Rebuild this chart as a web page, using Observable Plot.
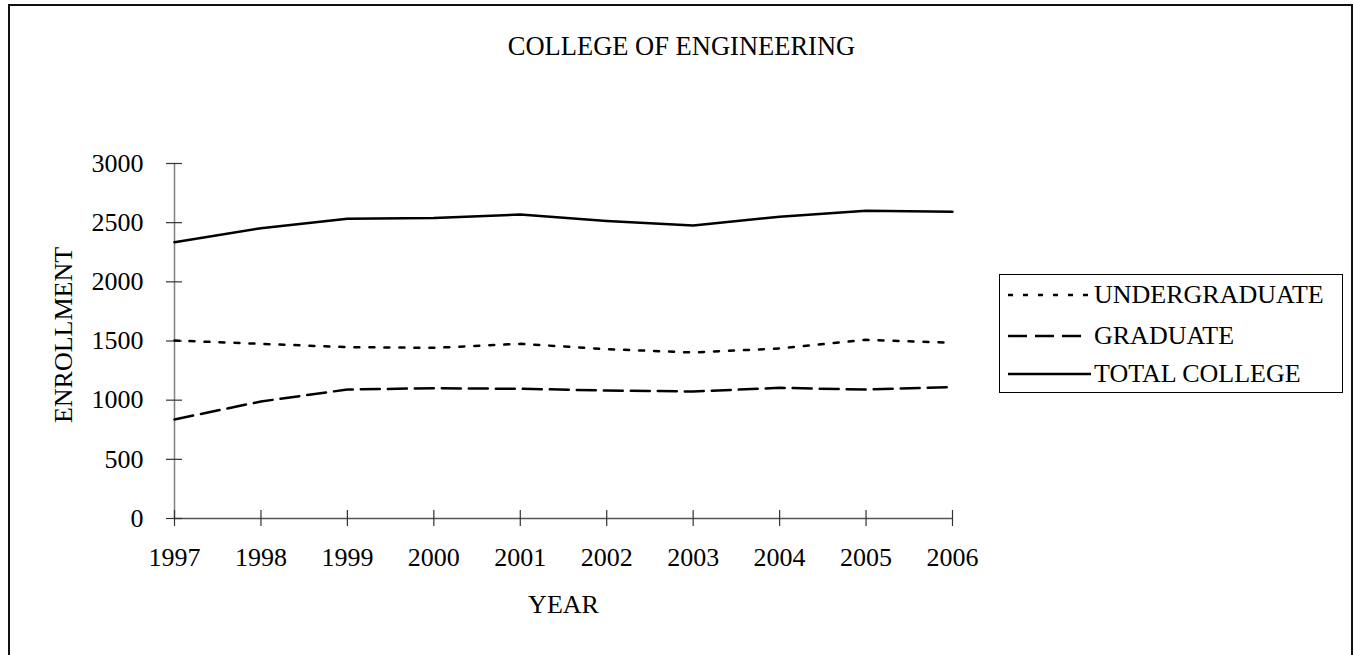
<!DOCTYPE html>
<html>
<head>
<meta charset="utf-8">
<script src="https://cdn.jsdelivr.net/npm/d3@7"></script>
<script src="https://cdn.jsdelivr.net/npm/@observablehq/plot@0.6"></script>
<style>
  html, body { margin: 0; padding: 0; background: #fff; }
  #wrap { position: relative; width: 1353px; height: 655px; overflow: hidden; }
  #frame { position: absolute; left: 8px; top: 4px; width: 1345px; height: 700px; box-sizing: border-box;
           border: 2px solid #111; border-bottom: none; }
  #chart { position: absolute; left: 0; top: 0; }
  #legend { position: absolute; left: 999px; top: 274px; width: 344px; height: 119px; box-sizing: border-box;
            border: 1px solid #000; background: #fff; }
</style>
</head>
<body>
<div id="wrap">
  <div id="frame"></div>
  <div id="chart"></div>
  <div id="legend"></div>
</div>
<script>
// ---- data ----
const years = [1997, 1998, 1999, 2000, 2001, 2002, 2003, 2004, 2005, 2006];
const undergraduate = [1504, 1476, 1448, 1442, 1476, 1431, 1403, 1437, 1510, 1485];
const graduate = [837, 989, 1090, 1101, 1096, 1082, 1073, 1104, 1090, 1110];
const totalCollege = [2335, 2453, 2533, 2540, 2569, 2515, 2476, 2550, 2600, 2592];
const yTicks = [0, 500, 1000, 1500, 2000, 2500, 3000];
const seriesNames = ["UNDERGRADUATE", "GRADUATE", "TOTAL COLLEGE"];
const seriesDash = ["5,10", "19,8", null];
const titleText = "COLLEGE OF ENGINEERING";
const xLabel = "YEAR";
const yLabel = "ENROLLMENT";

const seriesValues = [undergraduate, graduate, totalCollege];
const rows = [];
seriesNames.forEach((name, s) => {
  years.forEach((yr, i) => rows.push({series: name, year: yr, value: seriesValues[s][i]}));
});

const FONT = "'Liberation Serif', 'Times New Roman', serif";
const FS = 26;

const lineMarks = seriesNames.map((name, s) =>
  Plot.line(rows.filter(d => d.series === name), {
    x: "year", y: "value", stroke: "#000", strokeWidth: 2.5,
    strokeDasharray: seriesDash[s] || undefined, strokeLinejoin: "round"
  })
);

const plot = Plot.plot({
  width: 1353,
  height: 655,
  marginLeft: 174,
  marginRight: 401,
  marginTop: 163,
  marginBottom: 137,
  style: {fontFamily: FONT, fontSize: FS + "px", background: "transparent", color: "#000"},
  x: {domain: [1997, 2006], axis: null},
  y: {domain: [0, 3000], axis: null},
  marks: [
    Plot.ruleX([1997], {stroke: "#808080", strokeWidth: 1.5}),
    Plot.ruleY([0], {stroke: "#555", strokeWidth: 1.5}),
    Plot.axisY({ticks: yTicks, tickSize: 16, dx: 8, tickPadding: 23, tickFormat: d => String(d),
                stroke: "#333", strokeWidth: 1.2, fontSize: FS, fill: "#000", label: null}),
    Plot.axisX({ticks: years, tickSize: 16, dy: -8, tickPadding: 21, tickFormat: d => String(d),
                stroke: "#333", strokeWidth: 1.2, fontSize: FS, fill: "#000", label: null}),
    ...lineMarks,
    Plot.text([xLabel], {frameAnchor: "bottom", lineAnchor: "middle", textAnchor: "middle",
                         dy: 86, fontSize: FS, fill: "#000"}),
    Plot.text([yLabel], {frameAnchor: "left", rotate: -90, lineAnchor: "middle", textAnchor: "middle",
                         dx: -111, dy: -6, fontSize: FS, fill: "#000"}),
    Plot.text([titleText], {frameAnchor: "top", lineAnchor: "middle", textAnchor: "middle",
                            dx: 118, dy: -116.5, fontSize: 26.5, fill: "#000"})
  ]
});
document.getElementById("chart").appendChild(plot);

// ---- legend ----
const lw = 342, lh = 117;
const lsvg = d3.select("#legend").append("svg").attr("width", lw).attr("height", lh)
  .style("display", "block");
const rowY = [20, 61, 99];
const rowLineEnd = [91, 82, 91];
seriesNames.forEach((name, s) => {
  const g = lsvg.append("g");
  g.append("line").attr("x1", 8).attr("x2", rowLineEnd[s]).attr("y1", rowY[s]).attr("y2", rowY[s])
    .attr("stroke", "#000").attr("stroke-width", 2.5)
    .attr("stroke-dasharray", seriesDash[s]);
  g.append("text").attr("x", 94).attr("y", rowY[s] + 8)
    .attr("font-family", FONT).attr("font-size", FS).attr("fill", "#000").text(name);
});
</script>
</body>
</html>
